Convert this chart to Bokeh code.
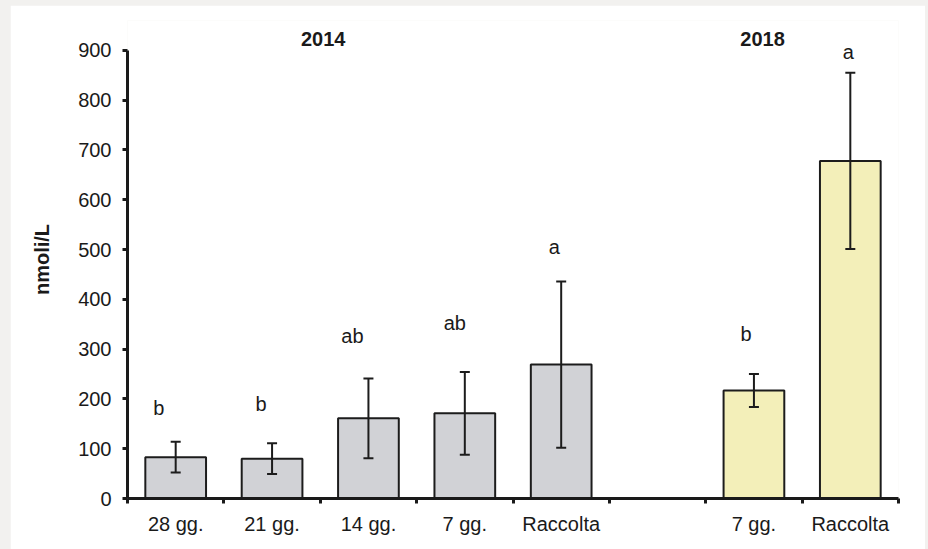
import numpy as np
from bokeh.plotting import figure
from bokeh.models import (ColumnDataSource, Whisker, TeeHead, Range1d, FixedTicker,
                          Label)
from bokeh.core.properties import value
from bokeh.embed import file_html
from bokeh.resources import INLINE

# ---- data ----
categories_2014 = ["28 gg.", "21 gg.", "14 gg.", "7 gg.", "Raccolta"]
categories_2018 = ["7 gg.", "Raccolta"]
mean_2014 = [83, 80, 161, 171, 269]
err_2014 = [31, 31, 80, 83, 167]
mean_2018 = [217, 678]
err_2018 = [33, 177]
letters_2014 = ["b", "b", "ab", "ab", "a"]
letters_2018 = ["b", "a"]
letter_level_2014 = [181, 189, 327, 353, 506]
letter_level_2018 = [331, 896]
years = ["2014", "2018"]
y_ticks = [0, 100, 200, 300, 400, 500, 600, 700, 800, 900]

# layout helpers (positions / styles kept separate from data)
pos_2014 = list(range(len(categories_2014)))
pos_2018 = [len(categories_2014) + 1 + i for i in range(len(categories_2018))]
letter_shift_2014 = [-17, -11, -16, -10, -7]
letter_shift_2018 = [-8, -2]
year_x = [1.53, 6.09]
year_level = 922
FONT = "Liberation Sans"
FS = "20px"

p = figure(width=915, height=544, output_backend="svg", toolbar_location=None,
           x_range=Range1d(-0.5, 7.5), y_range=Range1d(0, 960),
           min_border_left=117, min_border_right=27, min_border_top=15,
           min_border_bottom=51)
p.styles = {"margin-left": "10px", "margin-top": "5px"}
p.outline_line_color = None
p.xgrid.visible = False
p.ygrid.visible = False
p.background_fill_color = "white"
p.border_fill_color = "white"

def add_group(pos, means, errs, letters, levels, shifts, fill):
    src = ColumnDataSource(dict(
        x=pos, top=means,
        upper=[m + e for m, e in zip(means, errs)],
        lower=[m - e for m, e in zip(means, errs)],
        letter=letters, ly=levels, dx=shifts))
    p.vbar(x="x", top="top", bottom=0, width=0.63, source=src,
           fill_color=fill, line_color="#1c1c1c", line_width=2)
    w = Whisker(base="x", upper="upper", lower="lower", source=src,
                line_color="#1c1c1c", line_width=2, level="annotation",
                upper_head=TeeHead(size=10, line_width=2, line_color="#1c1c1c"),
                lower_head=TeeHead(size=10, line_width=2, line_color="#1c1c1c"))
    p.add_layout(w)
    p.text(x="x", y="ly", text="letter", x_offset="dx", source=src,
           text_align="center", text_baseline="alphabetic",
           text_font=value(FONT), text_font_size=FS, text_color="#1a1a1a")

add_group(pos_2014, mean_2014, err_2014, letters_2014, letter_level_2014,
          letter_shift_2014, "#d1d2d6")
add_group(pos_2018, mean_2018, err_2018, letters_2018, letter_level_2018,
          letter_shift_2018, "#f3efb9")

for yr, xx in zip(years, year_x):
    p.add_layout(Label(x=xx, y=year_level, text=yr, text_align="center",
                       text_baseline="alphabetic", text_font=FONT,
                       text_font_size=FS, text_font_style="bold",
                       text_color="#1a1a1a"))

# x axis: labels at bar centres, ticks at category boundaries
all_pos = pos_2014 + pos_2018
all_cats = categories_2014 + categories_2018
xa = p.xaxis[0]
xa.ticker = FixedTicker(ticks=all_pos,
                        minor_ticks=[i - 0.5 for i in range(len(all_pos) + 2)])
xa.major_label_overrides = {int(k): v for k, v in zip(all_pos, all_cats)}
xa.major_tick_out = 0
xa.major_tick_in = 0
xa.minor_tick_out = 5
xa.minor_tick_in = 0
xa.minor_tick_line_width = 3
xa.minor_tick_line_color = "#1a1a1a"
xa.axis_line_width = 3
xa.axis_line_color = "#1a1a1a"
xa.major_label_text_font = FONT
xa.major_label_text_font_size = FS
xa.major_label_text_color = "#1a1a1a"
xa.major_label_standoff = 9

ya = p.yaxis[0]
ya.ticker = FixedTicker(ticks=y_ticks)
ya.bounds = (y_ticks[0], y_ticks[-1])
ya.minor_tick_line_color = None
ya.major_tick_out = 5
ya.major_tick_in = 0
ya.major_tick_line_width = 3
ya.major_tick_line_color = "#1a1a1a"
ya.axis_line_width = 3
ya.axis_line_color = "#1a1a1a"
ya.major_label_text_font = FONT
ya.major_label_text_font_size = FS
ya.major_label_text_color = "#1a1a1a"
ya.major_label_standoff = 11
ya.axis_label = "nmoli/L"
ya.axis_label_text_font = FONT
ya.axis_label_text_font_size = FS
ya.axis_label_text_font_style = "bold"
ya.axis_label_text_color = "#1a1a1a"
ya.axis_label_standoff = 22

html = file_html(p, INLINE)
html = html.replace("</head>",
                    "<style>html, body { background: #f2f1ef !important; }</style></head>", 1)
open("out.html", "w").write(html)
